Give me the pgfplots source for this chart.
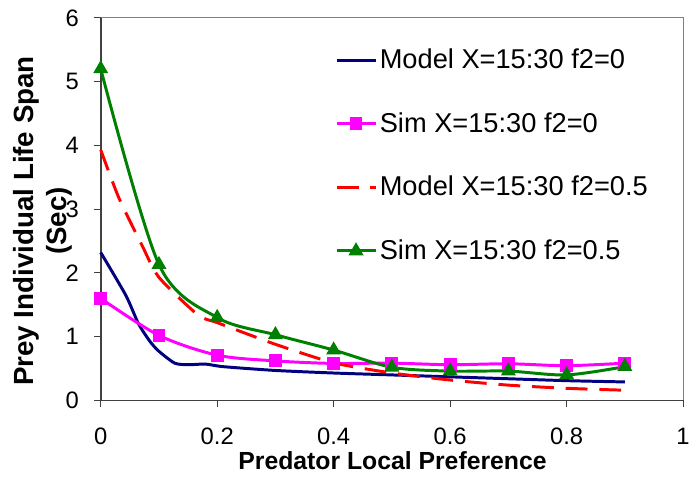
\documentclass[border=0pt]{standalone}
\usepackage{fontspec}
\setmainfont{Liberation Sans}
\usepackage{pgfplots}
\pgfplotsset{compat=1.18}

\definecolor{modnavy}{RGB}{0,0,128}
\definecolor{simmag}{RGB}{255,0,255}
\definecolor{modred}{RGB}{255,0,0}
\definecolor{simgreen}{RGB}{0,128,0}
\definecolor{axgray}{RGB}{64,64,64}

\begin{document}
\begin{tikzpicture}
\begin{axis}[
  scale only axis,
  width=294pt, height=193.15pt,
  xmin=0, xmax=1, ymin=0, ymax=6,
  axis lines=left,
  axis line style={-, axgray, line width=0.9pt},
  xtick={0,0.2,0.4,0.6,0.8,1},
  ytick={0,1,2,3,4,5,6},
  tick align=outside,
  major tick length=3.5pt,
  tick style={axgray, line width=0.6pt},
  /pgf/number format/assume math mode=true,
  tick label style={font=\fontsize{12}{14}\selectfont},
  xticklabel style={yshift=-7pt},
  yticklabel style={xshift=-4pt},
  xlabel={Predator Local Preference},
  ylabel={Prey Individual Life Span\\(Sec)},
  xlabel style={at={(axis description cs:0.501,-0.1804)}, anchor=base,
    font=\bfseries\fontsize{12.5}{15}\selectfont},
  ylabel style={at={(axis description cs:-0.099,0.469)}, anchor=center, rotate=0,
    align=center, font=\bfseries\fontsize{14}{16.5}\selectfont},
  legend style={at={(axis description cs:0.402,0.928)}, anchor=north west,
    draw=none, fill=none, inner sep=0pt, row sep=17.65pt,
    font=\fontsize{13.75}{16}\selectfont,
    nodes={inner sep=1.5pt}},
  legend cell align=left,
  legend image code/.code={%
    \draw[mark repeat=2,mark phase=2] plot coordinates {(0pt,0pt) (9.75pt,0pt) (19.5pt,0pt)};},
  clip=false,
]
\addplot[modnavy, line width=1.5pt, smooth, tension=0.4, no markers] coordinates {
  (0,2.32) (0.043,1.65) (0.065,1.2) (0.085,0.92) (0.1,0.77)
  (0.127,0.585) (0.15,0.56) (0.18,0.57) (0.21,0.53) (0.3,0.47) (0.4,0.43)
  (0.5,0.40) (0.6,0.37) (0.7,0.34) (0.8,0.31) (0.9,0.29)
};
\addlegendentry{Model X=15:30 f2=0}

\addplot[simmag, line width=1.5pt, smooth, mark=square*, mark size=2.5pt,
  mark options={solid}] coordinates {
  (0,1.6) (0.1,1.02) (0.2,0.71) (0.3,0.62) (0.4,0.58)
  (0.5,0.585) (0.6,0.56) (0.7,0.575) (0.8,0.545) (0.9,0.585)
};
\addlegendentry{Sim X=15:30 f2=0}

\addplot[modred, line width=1.5pt, smooth, tension=0.4, no markers,
  dash pattern=on 11pt off 6pt] coordinates {
  (0,3.93) (0.031,3.18) (0.071,2.43) (0.1,1.93) (0.167,1.34) (0.2,1.22)
  (0.3,0.88) (0.4,0.59) (0.5,0.43) (0.6,0.32) (0.7,0.24) (0.8,0.19) (0.9,0.16)
};
\addlegendentry{Model X=15:30 f2=0.5}

\addplot[simgreen, line width=1.5pt, smooth, mark=triangle*, mark size=2.9pt,
  mark options={solid}] coordinates {
  (0,5.2) (0.1,2.13) (0.2,1.30) (0.3,1.03) (0.4,0.79)
  (0.5,0.52) (0.6,0.46) (0.7,0.46) (0.8,0.40) (0.9,0.53)
};
\addlegendentry{Sim X=15:30 f2=0.5}

\draw[gray, line width=0.6pt] (rel axis cs:0,1) -- (rel axis cs:1,1) -- (rel axis cs:1,0);
\coordinate (bl) at (rel axis cs:0,0);
\end{axis}
\pgfresetboundingbox
\path[use as bounding box] ([shift={(-50.85pt,-39.35pt)}]bl) rectangle ([shift={(299pt,202.15pt)}]bl);
\end{tikzpicture}
\end{document}
